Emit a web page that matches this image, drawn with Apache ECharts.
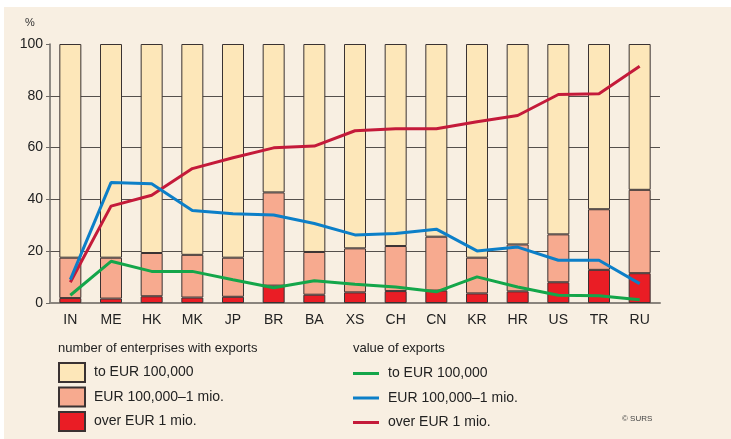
<!DOCTYPE html>
<html>
<head>
<meta charset="utf-8">
<script src="https://cdn.jsdelivr.net/npm/echarts@6/dist/echarts.min.js"></script>
<style>
  html, body { margin: 0; padding: 0; background: #ffffff; }
  #chart { position: absolute; left: 4px; top: 7px; width: 727px; height: 432px; }
</style>
</head>
<body>
<div id="chart"></div>
<script>
// countries
var categories = ["IN", "ME", "HK", "MK", "JP", "BR", "BA", "XS", "CH", "CN", "KR", "HR", "US", "TR", "RU"];

// number of enterprises with exports (%), stacked
var entOver1m = [1.9, 1.7, 2.6, 2.1, 2.4, 6.7, 3.2, 4.1, 4.6, 4.8, 3.7, 4.5, 8.0, 12.8, 11.5];
var entMid = [15.6, 15.8, 16.7, 16.5, 15.1, 36.0, 16.5, 17.0, 17.4, 20.8, 13.8, 18.1, 18.5, 23.4, 32.2];
var entTo100k = [82.5, 82.5, 80.7, 81.4, 82.5, 57.3, 80.3, 78.9, 78.0, 74.4, 82.5, 77.4, 73.5, 63.8, 56.3];

// value of exports (%)
var valTo100k = [3.0, 16.1, 12.2, 12.2, 9.0, 5.9, 8.6, 7.2, 6.2, 4.3, 10.1, 6.2, 3.0, 2.8, 1.3];
var valMid = [9.0, 46.5, 46.0, 35.7, 34.5, 34.0, 30.7, 26.3, 26.8, 28.5, 20.1, 21.6, 16.5, 16.5, 7.5];
var valOver1m = [8.0, 37.4, 41.6, 51.9, 56.1, 59.9, 60.6, 66.5, 67.3, 67.3, 70.0, 72.4, 80.5, 80.8, 91.4];

var yTicks = [0, 20, 40, 60, 80, 100];

var font = "'Liberation Sans', sans-serif";
var border = "#3a3232";
// line legend icon: thin stripe inside a 26x19 box
var lineIcon = "path://M0,0 M0,8 L26,8 L26,11 L0,11 Z M26,19";

var chart = echarts.init(document.getElementById("chart"));
chart.setOption({
  backgroundColor: "#f8efe2",
  animation: false,
  grid: { left: 46, right: 71, top: 37, bottom: 136 },
  graphic: [
    { type: "text", left: 21, top: 10, style: { text: "%", fontSize: 11, fill: "#333", fontFamily: font } },
    { type: "text", left: 54, top: 335, style: { text: "number of enterprises with exports", fontSize: 13, fill: "#222", fontFamily: font } },
    { type: "text", left: 349, top: 335, style: { text: "value of exports", fontSize: 13, fill: "#222", fontFamily: font } },
    { type: "text", left: 618, top: 408, style: { text: "© SURS", fontSize: 8, fill: "#444", fontFamily: font } }
  ],
  legend: [
    {
      data: ["to EUR 100,000", "EUR 100,000–1 mio.", "over EUR 1 mio."],
      orient: "vertical",
      left: 54, top: 355, height: 90, padding: 0,
      itemWidth: 26, itemHeight: 19, itemGap: 3.5,
      icon: "rect",
      selectedMode: false,
      textStyle: { fontSize: 14, lineHeight: 19, color: "#222", fontFamily: font, padding: [0, 0, 0, 4] }
    },
    {
      data: ["v|to EUR 100,000", "v|EUR 100,000–1 mio.", "v|over EUR 1 mio."],
      orient: "vertical",
      left: 349, top: 357, height: 90, padding: 0,
      itemWidth: 26, itemHeight: 19, itemGap: 5.5,
      icon: lineIcon,
      selectedMode: false,
      formatter: function (n) { return n.replace("v|", ""); },
      textStyle: { fontSize: 14, lineHeight: 19, color: "#222", fontFamily: font, padding: [0, 0, 0, 4] }
    }
  ],
  xAxis: {
    type: "category",
    data: categories,
    axisLine: { lineStyle: { color: "#8a847d", width: 2 } },
    axisTick: { show: false },
    axisLabel: { fontSize: 14, color: "#222", fontFamily: font, margin: 10 }
  },
  yAxis: {
    type: "value",
    min: yTicks[0], max: yTicks[yTicks.length - 1], interval: 20,
    axisLine: { show: true, lineStyle: { color: "#6e6a66", width: 1.5 } },
    axisTick: { show: true, length: 4, lineStyle: { color: "#6e6a66" } },
    axisLabel: { fontSize: 14, color: "#222", fontFamily: font, margin: 7 },
    splitLine: { lineStyle: { color: ["#55504c", "#55504c", "#55504c", "#55504c", "#55504c", "rgba(0,0,0,0)"], width: 1.2 } }
  },
  series: [
    {
      name: "over EUR 1 mio.", type: "bar", stack: "ent", barWidth: 22, data: entOver1m,
      itemStyle: { color: "#ea1d25", borderColor: border, borderWidth: 1 }
    },
    {
      name: "EUR 100,000–1 mio.", type: "bar", stack: "ent", barWidth: 22, data: entMid,
      itemStyle: { color: "#f7aa8f", borderColor: border, borderWidth: 1 }
    },
    {
      name: "to EUR 100,000", type: "bar", stack: "ent", barWidth: 22, data: entTo100k,
      itemStyle: { color: "#fde7b9", borderColor: border, borderWidth: 1 }
    },
    {
      name: "v|over EUR 1 mio.", type: "line", data: valOver1m, symbol: "none",
      lineStyle: { color: "#c41a3a", width: 3 }, itemStyle: { color: "#c41a3a" }
    },
    {
      name: "v|EUR 100,000–1 mio.", type: "line", data: valMid, symbol: "none",
      lineStyle: { color: "#0c7fc8", width: 3 }, itemStyle: { color: "#0c7fc8" }
    },
    {
      name: "v|to EUR 100,000", type: "line", data: valTo100k, symbol: "none",
      lineStyle: { color: "#14a64a", width: 3 }, itemStyle: { color: "#14a64a" }
    }
  ]
});
</script>
</body>
</html>
